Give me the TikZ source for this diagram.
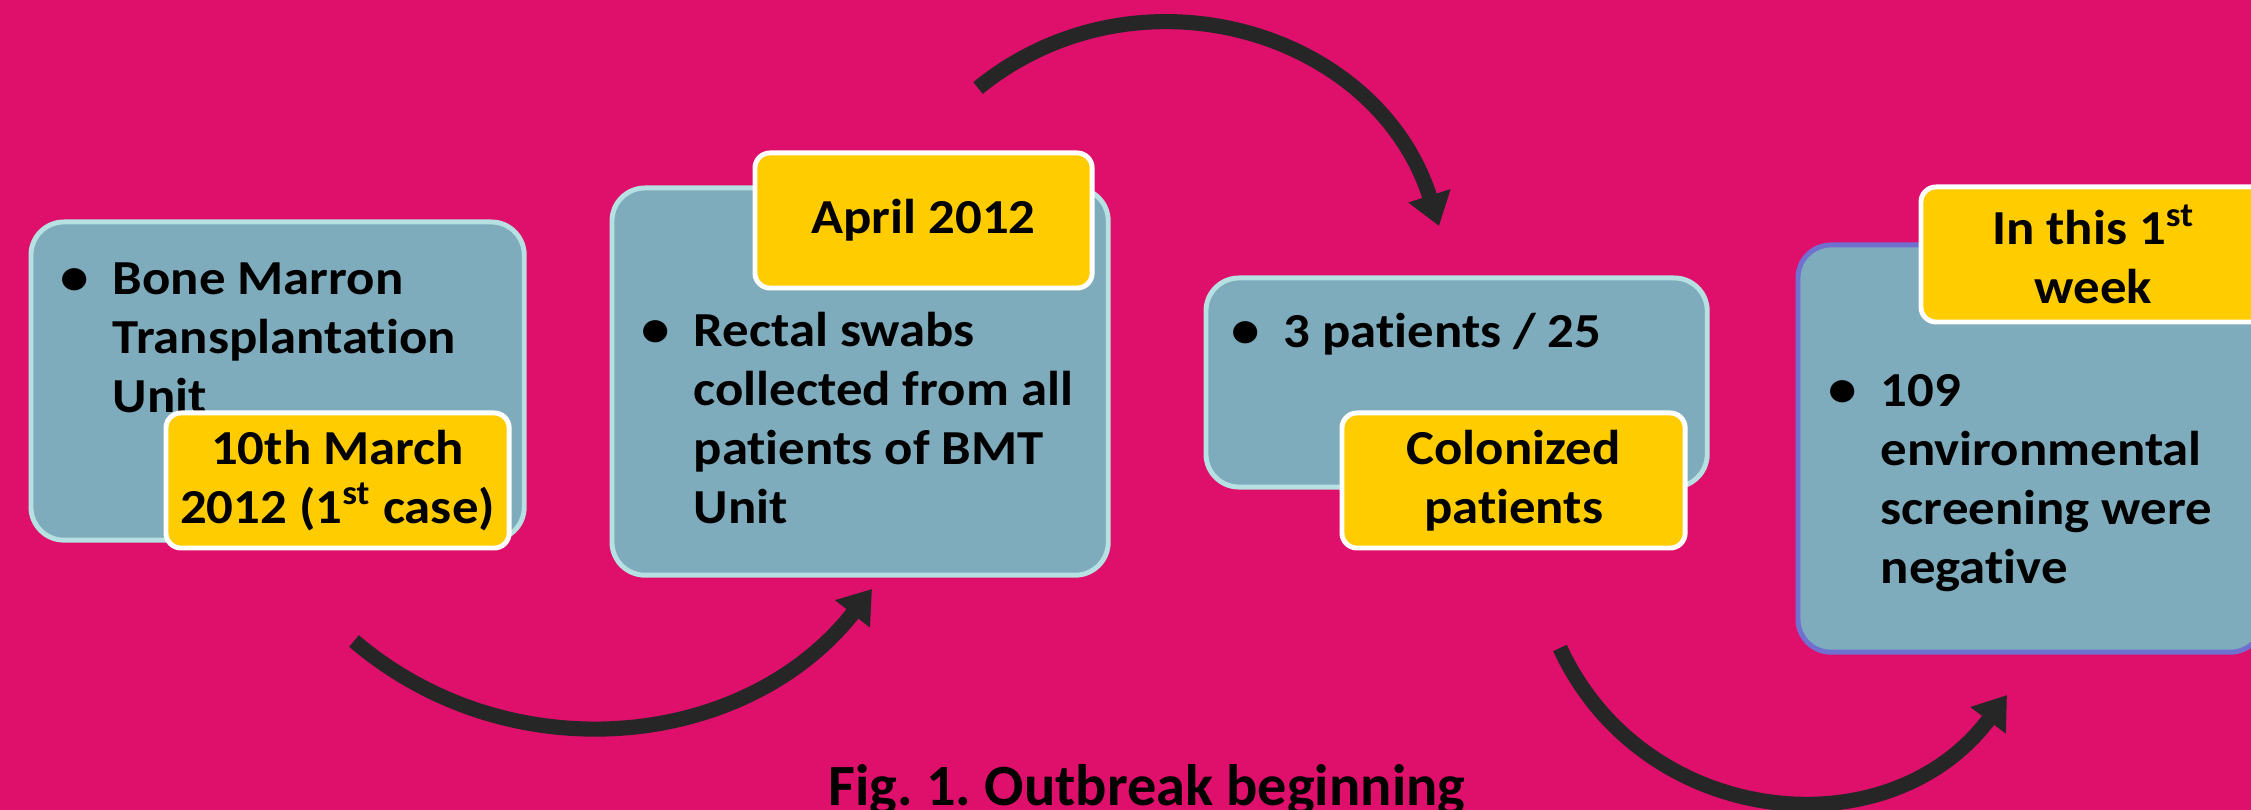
\documentclass[tikz,border=0pt]{standalone}
\usepackage{fontspec}
\setmainfont{Carlito}[Ligatures=NoCommon]
\newfontfamily\boxfont{Carlito}[FakeStretch=1.08, Ligatures=NoCommon]
\usetikzlibrary{arrows.meta}
\frenchspacing
\definecolor{pagebg}{HTML}{DF106C}
\definecolor{stagefill}{HTML}{7FACBC}
\definecolor{stageline}{HTML}{B7E0E2}
\definecolor{lastline}{HTML}{7070D0}
\definecolor{dateyellow}{HTML}{FFCC00}
\definecolor{arrowgrey}{HTML}{262626}
\tikzset{
  stage/.style={draw=stageline, fill=stagefill, line width=1.4pt, rounded corners=0.33cm, anchor=north west, inner sep=0pt},
  datebox/.style={draw=white, fill=dateyellow, line width=1.4pt, rounded corners=0.15cm, anchor=north west, minimum width=3.43cm, minimum height=1.35cm, inner sep=0pt, align=flush center, font=\boxfont\fontsize{13.9}{16.7}\selectfont\bfseries},
  stagetext/.style={anchor=base west, inner sep=0pt, text width=4.3cm, align=flush left, font=\boxfont\fontsize{13.9}{16.7}\selectfont\bfseries},
  flowarrow/.style={draw=arrowgrey, line width=4.3pt, -{Triangle[length=9pt,width=12pt]}}
}
\newcommand{\stagebullet}{\llap{{\fontsize{15}{15}\selectfont\textbullet}\hspace{0.24cm}}}
\begin{document}
\begin{tikzpicture}[x=0.01cm, y=-0.01cm]
  \useasboundingbox (0,0) rectangle (2251,810);
  \fill[pagebg] (0,0) rectangle (2251,810);

  \node[stage, minimum width=4.93cm, minimum height=3.18cm] (b1) at (28.5,219.5) {};
  \node[stage, minimum width=4.96cm, minimum height=3.87cm] (b2) at (609.5,185.5) {};
  \node[stage, minimum width=5.01cm, minimum height=2.09cm] (b3) at (1203.5,275.5) {};
  \node[stage, draw=lastline, minimum width=4.65cm, minimum height=4.07cm] (b4) at (1795.5,242.5) {};

  \node[stagetext] (t1) at (112,295) {\stagebullet Bone Marron\\Transplantation\\Unit};
  \node[stagetext] (t2) at (693,347) {\stagebullet Rectal swabs\\collected from all\\patients of BMT\\Unit};
  \node[stagetext] (t3) at (1283,348) {\stagebullet 3 patients / 25};
  \node[stagetext] (t4) at (1880,407) {\stagebullet 109\\environmental\\screening were\\negative};

  \node[datebox] (d1) at (163.5,410.5) {10th March\\2012 (1\textsuperscript{st} case)};
  \node[datebox, minimum width=3.37cm] (d2) at (752.5,150.5) {April 2012};
  \node[datebox] (d3) at (1339.5,410.5) {Colonized\\patients};
  \node[datebox, minimum width=3.45cm] (d4) at (1918.5,184.5) {In this 1\textsuperscript{st}\\week};

  \coordinate (a1s) at (354,641);
  \coordinate (a1e) at (872,589);
  \coordinate (a2s) at (978,88);
  \coordinate (a2e) at (1439,226);
  \coordinate (a3s) at (1560,648);
  \coordinate (a3e) at (2007,695);
  \draw[flowarrow] (a1s) .. controls (510,774) and (745.5,750) .. (a1e);
  \draw[flowarrow] (a2s) .. controls (1137.4,-41.2) and (1377,30.4) .. (a2e);
  \draw[flowarrow] (a3s) .. controls (1643,828.1) and (1888.3,853.9) .. (a3e);

  \node[anchor=base, inner sep=0pt, font=\fontsize{16.6}{20}\selectfont\bfseries] (caption) at (1147,806) {Fig. 1. Outbreak beginning};
\end{tikzpicture}
\end{document}
